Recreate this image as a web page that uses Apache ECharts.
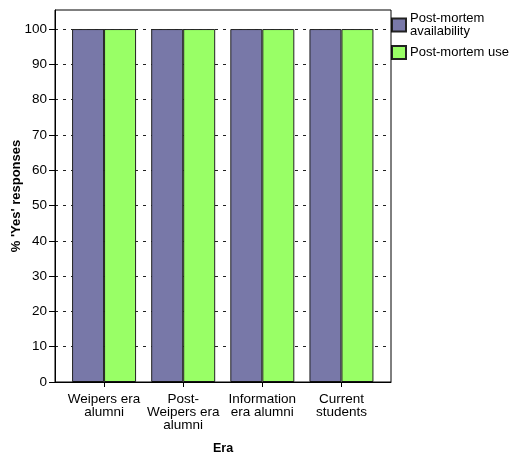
<!DOCTYPE html>
<html><head><meta charset="utf-8">
<script src="https://cdn.jsdelivr.net/npm/echarts@6/dist/echarts.min.js"></script>
<style>html,body{margin:0;padding:0;background:#fff}#c{width:511px;height:457px}</style>
</head><body><div id="c"></div>
<script>
const categories = ['Weipers era\nalumni', 'Post-\nWeipers era\nalumni', 'Information\nera alumni', 'Current\nstudents'];
const availability = [100, 100, 100, 100];
const use = [100, 100, 100, 100];
const yTicks = [0, 10, 20, 30, 40, 50, 60, 70, 80, 90, 100];
const seriesNames = ['Post-mortem\navailability', 'Post-mortem use'];

const FONT = 'Liberation Sans, Arial, sans-serif';
const chart = echarts.init(document.getElementById('c'), null, {renderer: 'canvas'});
const yMax = 105.4;
chart.setOption({
  animation: false,
  backgroundColor: '#fff',
  textStyle: {fontFamily: FONT},
  grid: [
    {left: 64.5, right: 130, top: 10, bottom: 75, show: false, containLabel: false, outerBoundsMode: 'none'},
    {left: 55, right: 120, top: 10, bottom: 75, show: true, borderColor: '#000', borderWidth: 1, backgroundColor: 'transparent', z: 10, containLabel: false, outerBoundsMode: 'none'}
  ],
  legend: {
    orient: 'vertical', left: 391, top: 12, padding: 0,
    itemWidth: 14, itemHeight: 13, itemGap: 7,
    icon: 'rect',
    textStyle: {fontSize: 13, lineHeight: 13, color: '#000', fontFamily: FONT, padding: [0, 0, 0, -1]},
    data: seriesNames
  },
  xAxis: [
    {
      type: 'category', gridIndex: 0, data: categories,
      axisLine: {show: false},
      axisTick: {show: true, alignWithLabel: true, length: 5, lineStyle: {color: '#000'}},
      axisLabel: {fontSize: 13.5, lineHeight: 13, color: '#000', margin: 11, interval: 0, fontFamily: FONT}
    },
    {
      type: 'category', gridIndex: 1, data: categories,
      axisLine: {show: true, lineStyle: {color: '#000', width: 1}}, axisTick: {show: false}, axisLabel: {show: false},
      name: 'Era', nameLocation: 'middle', nameGap: 60, nameMoveOverlap: false,
      nameTextStyle: {fontWeight: 'bold', fontSize: 12.5, color: '#000', fontFamily: FONT},
      z: 20
    }
  ],
  yAxis: [
    {
      type: 'value', gridIndex: 0, min: 0, max: yMax, show: false, splitLine: {show: false}
    },
    {
      type: 'value', gridIndex: 1, min: 0, max: yMax, interval: 10,
      axisLine: {show: true, lineStyle: {color: '#000'}},
      axisTick: {show: true, inside: false, length: 6, lineStyle: {color: '#000'}, customValues: yTicks},
      axisLabel: {fontSize: 13.5, color: '#000', margin: 8, inside: false, customValues: yTicks, fontFamily: FONT},
      splitLine: {show: true, lineStyle: {color: '#222', type: [3, 5], width: 1}},
      name: "% 'Yes' responses", nameLocation: 'middle', nameGap: 32, nameMoveOverlap: false,
      nameTextStyle: {fontWeight: 'bold', fontSize: 13, color: '#000', fontFamily: FONT},
      z: 0
    }
  ],
  series: [
    {
      name: seriesNames[0], type: 'bar', xAxisIndex: 0, yAxisIndex: 0,
      data: availability, barWidth: 32, barGap: '0%',
      itemStyle: {color: '#7878A8', borderColor: '#222', borderWidth: 1}, z: 5
    },
    {
      name: seriesNames[1], type: 'bar', xAxisIndex: 0, yAxisIndex: 0,
      data: use, barWidth: 32, barGap: '0%',
      itemStyle: {color: '#99FF66', borderColor: '#222', borderWidth: 1}, z: 5
    }
  ]
});
</script></body></html>
